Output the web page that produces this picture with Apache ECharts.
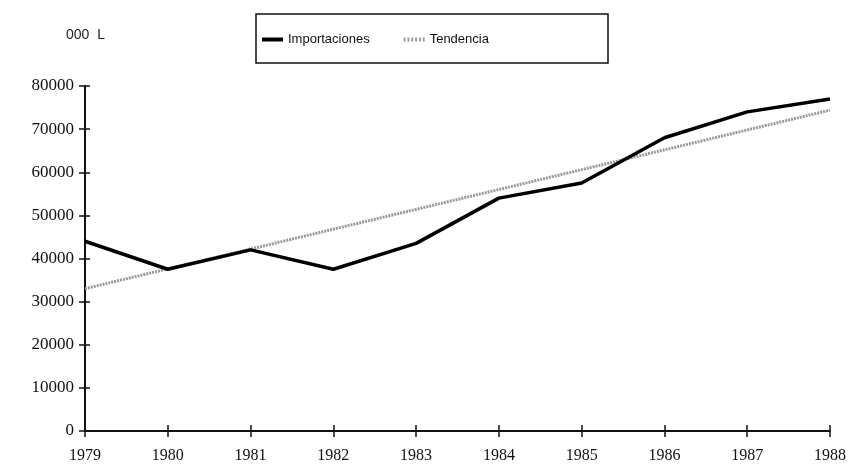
<!DOCTYPE html>
<html>
<head>
<meta charset="utf-8">
<script src="https://cdn.jsdelivr.net/npm/echarts@6/dist/echarts.min.js"></script>
<style>
  html, body { margin: 0; padding: 0; background: #fff; }
  #chart { width: 860px; height: 470px; }
</style>
</head>
<body>
<div id="chart"></div>
<script>
// años
const years = ['1979', '1980', '1981', '1982', '1983', '1984', '1985', '1986', '1987', '1988']
// importaciones (000 l)
const importaciones = [44000, 37500, 42000, 37500, 43500, 54000, 57500, 68000, 74000, 77000]
// tendencia lineal
const tendencia = [33000, 37600, 42200, 46800, 51400, 56000, 60600, 65200, 69800, 74400]

const serif = 'Liberation Serif'
const sans = 'Liberation Sans'

const chart = echarts.init(document.getElementById('chart'))

// icono punteado para la leyenda
const dottedIcon = 'path://M0,0h2v4h-2zM4,0h2v4h-2zM8,0h2v4h-2zM12,0h2v4h-2zM16,0h2v4h-2zM20,0h2v4h-2z'

const option = {
  animation: false,
  backgroundColor: '#fff',
  title: {
    text: '000  L',
    left: 61,
    top: 23,
    textStyle: { fontFamily: sans, fontSize: 14, fontWeight: 'normal', color: '#222' }
  },
  legend: {
    left: 262,
    top: 33,
    itemWidth: 21,
    itemHeight: 4,
    itemGap: 34,
    padding: 0,
    textStyle: { fontFamily: sans, fontSize: 13, color: '#111' },
    data: [
      { name: 'Importaciones', icon: 'rect', itemStyle: { color: '#000' } },
      { name: 'Tendencia', icon: dottedIcon, itemStyle: { color: '#9a9a9a' } }
    ]
  },
  graphic: [
    {
      type: 'rect',
      shape: { x: 256, y: 14, width: 352, height: 49 },
      style: { fill: 'none', stroke: '#111', lineWidth: 1.5 }
    }
  ],
  grid: { left: 85, right: 30, top: 86, bottom: 39 },
  xAxis: [
    {
      type: 'category',
      data: years,
      boundaryGap: false,
      axisLine: { lineStyle: { color: '#111', width: 2 } },
      axisTick: { alignWithLabel: true, length: 6, lineStyle: { color: '#111', width: 1.5 } },
      axisLabel: { fontFamily: serif, fontSize: 16, color: '#111', margin: 17 },
      splitLine: { show: false }
    },
    {
      type: 'category',
      data: years,
      boundaryGap: false,
      position: 'bottom',
      axisLine: { show: false },
      axisTick: { inside: true, length: 6, lineStyle: { color: '#111', width: 1.5 } },
      axisLabel: { show: false },
      splitLine: { show: false }
    }
  ],
  yAxis: [
    {
      type: 'value',
      min: 0,
      max: 80000,
      interval: 10000,
      axisLine: { show: true, lineStyle: { color: '#111', width: 2 } },
      axisTick: { show: true, length: 6, lineStyle: { color: '#111', width: 1.5 } },
      axisLabel: { fontFamily: serif, fontSize: 17, color: '#111', margin: 11, formatter: (v) => String(v) },
      splitLine: { show: false }
    },
    {
      type: 'value',
      min: 0,
      max: 80000,
      interval: 10000,
      position: 'left',
      axisLine: { show: false },
      axisTick: { show: true, inside: true, length: 5, lineStyle: { color: '#111', width: 1.5 } },
      axisLabel: { show: false },
      splitLine: { show: false }
    }
  ],
  series: [
    {
      name: 'Tendencia',
      type: 'line',
      data: tendencia,
      symbol: 'none',
      lineStyle: { color: '#9a9a9a', width: 3, type: [2, 1] },
      itemStyle: { color: '#9a9a9a' },
      z: 2
    },
    {
      name: 'Importaciones',
      type: 'line',
      data: importaciones,
      symbol: 'none',
      lineStyle: { color: '#000', width: 3.5 },
      itemStyle: { color: '#000' },
      z: 3
    }
  ]
}

chart.setOption(option)
</script>
</body>
</html>
